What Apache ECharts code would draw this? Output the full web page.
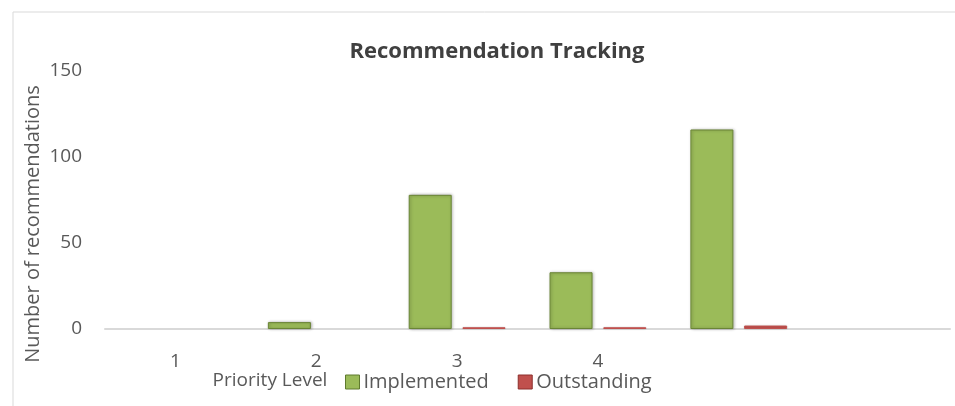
<!DOCTYPE html>
<html>
<head>
<meta charset="utf-8">
<script src="https://cdn.jsdelivr.net/npm/echarts@6/dist/echarts.min.js"></script>
<style>
html,body{margin:0;padding:0;background:#fff;}
#chart{width:955px;height:406px;}
</style>
</head>
<body>
<div id="chart"></div>
<script>
const categories = ['1', '2', '3', '4', '', ''];
const implemented = [0, 4, 78, 33, 116, 0];
const outstanding = [0, 0, 1, 1, 2, 0];
const yTicks = [0, 50, 100, 150];

const chart = echarts.init(document.getElementById('chart'));
const txt = '#595959';
const font = 'Open Sans';

// zero-height bars get no outline so they stay invisible
function withOutline(values, border) {
  return values.map(v => v === 0
    ? { value: v, itemStyle: { borderWidth: 0, shadowBlur: 0 } }
    : { value: v, itemStyle: { borderColor: border, borderWidth: 1 } });
}

chart.setOption({
  animation: false,
  backgroundColor: '#ffffff',
  title: {
    text: 'Recommendation Tracking',
    left: 492, top: 36, textAlign: 'center',
    textStyle: { fontFamily: font, fontWeight: 'bold', fontSize: 22, color: '#404040' }
  },
  legend: {
    left: 340, top: 367,
    icon: 'rect', itemWidth: 14, itemHeight: 14, itemGap: 29,
    textStyle: { fontFamily: font, fontSize: 20, color: txt, padding: [0,0,0,-1] },
    data: [
      { name: 'Implemented', itemStyle: { color: '#9bbb59', borderColor: '#5f7a2e', borderWidth: 1 } },
      { name: 'Outstanding', itemStyle: { color: '#c0504d', borderColor: '#8c2f2c', borderWidth: 1 } }
    ]
  },
  grid: { left: 105, right: 5, top: 71, bottom: 77, containLabel: false },
  xAxis: {
    type: 'category',
    data: categories,
    axisLine: { lineStyle: { color: '#d9d9d9', width: 2 } },
    axisTick: { show: false },
    axisLabel: { fontFamily: font, fontSize: 19, color: txt, margin: 23 }
  },
  yAxis: {
    type: 'value', min: yTicks[0], max: yTicks[yTicks.length - 1], interval: 50,
    splitLine: { show: false },
    axisLine: { show: false },
    axisTick: { show: false },
    axisLabel: { fontFamily: font, fontSize: 19, color: txt, margin: 23 }
  },
  graphic: [
    { type: 'rect', shape: { x: 13, y: 12, width: 1000, height: 500 },
      style: { fill: 'none', stroke: '#d9d9d9', lineWidth: 1 }, silent: true, z: -10 },
    { type: 'text', x: 33, y: 224, rotation: Math.PI / 2,
      style: { text: 'Number of recommendations', fontFamily: font, fontSize: 20,
        fill: txt, textAlign: 'center', textVerticalAlign: 'middle' } },
    { type: 'text', x: 270, y: 381,
      style: { text: 'Priority Level', fontFamily: font, fontSize: 19,
        fill: txt, textAlign: 'center', textVerticalAlign: 'middle' } }
  ],
  series: [
    {
      name: 'Implemented', type: 'bar', data: withOutline(implemented, '#6a8536'),
      barWidth: 43, barGap: '25%',
      itemStyle: {
        color: '#9bbb59',
        shadowColor: 'rgba(0,0,0,0.3)', shadowBlur: 3, shadowOffsetX: 1, shadowOffsetY: 0
      }
    },
    {
      name: 'Outstanding', type: 'bar', data: withOutline(outstanding, '#c0504d'),
      barWidth: 43,
      itemStyle: {
        color: '#c0504d',
        shadowColor: 'rgba(0,0,0,0.15)', shadowBlur: 2
      }
    }
  ]
});
</script>
</body>
</html>
